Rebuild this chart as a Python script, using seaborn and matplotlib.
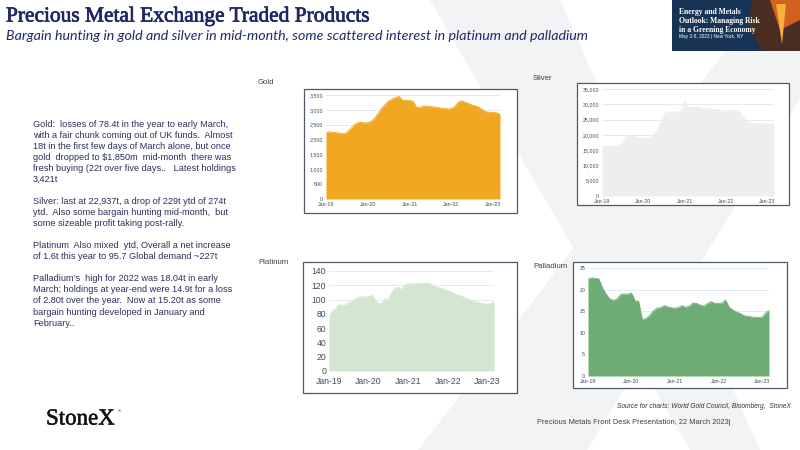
import os
import pandas as pd
import matplotlib
matplotlib.use('Agg')
import matplotlib.pyplot as plt
import matplotlib.dates as mdates
import matplotlib.patheffects as pe
from matplotlib import font_manager as fm
from matplotlib.font_manager import FontProperties
from matplotlib.patches import Rectangle, Polygon
from matplotlib.ticker import FuncFormatter
import seaborn as sb

# Monthly ETP holdings, Jan-19 .. Mar-23
months = pd.date_range('2019-01-01', periods=51, freq='MS')

gold = [2240, 2260, 2250, 2230, 2220, 2190, 2240, 2350, 2480, 2560, 2590, 2560,
        2570, 2620, 2720, 2880, 3060, 3180, 3300, 3360, 3420, 3450, 3320, 3320,
        3320, 3280, 3090, 3080, 3130, 3130, 3110, 3100, 3080, 3060, 3050, 3030,
        3040, 3120, 3260, 3310, 3250, 3210, 3160, 3130, 3080, 3000, 2930, 2920,
        2910, 2900, 2860]
silver = [16200, 16300, 16300, 16200, 16300, 16500, 17500, 19400, 19700, 19500, 19200, 18900,
          18700, 18900, 19200, 20000, 21200, 24000, 26800, 27600, 27300, 27600, 27400, 27800,
          30900, 29300, 28900, 29000, 29000, 28700, 28600, 28400, 28400, 28300, 28200, 28000,
          27800, 27900, 28000, 28000, 27600, 25800, 24400, 24000, 23850, 23700, 23600, 23600,
          23600, 23500, 23500]
platinum = [74, 84, 87, 93, 92, 92, 96, 97, 101, 103, 104, 104,
            104, 106, 100, 94, 95, 100, 101, 110, 116, 117, 114, 121,
            122, 122, 122, 123, 122, 123, 123, 121, 118, 117, 116, 114,
            112, 111, 108, 106, 105, 103, 101, 99, 97, 96, 95, 94,
            93, 95, 97]
palladium = [22.4, 22.7, 22.6, 22.5, 20.5, 19.0, 17.9, 17.5, 17.8, 18.8, 19.0, 18.9,
             19.2, 17.4, 17.3, 13.1, 13.3, 14.0, 15.0, 15.7, 15.8, 16.3, 16.0, 15.8,
             15.7, 15.9, 16.3, 15.9, 16.2, 16.9, 16.8, 16.4, 16.2, 16.8, 17.2, 16.8,
             16.8, 16.9, 17.6, 15.9, 15.3, 14.8, 14.5, 14.0, 13.8, 13.7, 13.6, 13.5,
             13.6, 14.6, 15.2]

tick_years = ['2019', '2020', '2021', '2022', '2023']

body = ("Gold:  losses of 78.4t in the year to early March,\n"
        "with a fair chunk coming out of UK funds.  Almost\n"
        "18t in the first few days of March alone, but once\n"
        "gold  dropped to $1,850m  mid-month  there was\n"
        "fresh buying (22t over five days..   Latest holdings\n"
        "3,421t\n"
        "\n"
        "Silver: last at 22,937t, a drop of 229t ytd of 274t\n"
        "ytd.  Also some bargain hunting mid-month,  but\n"
        "some sizeable profit taking post-rally.\n"
        "\n"
        "Platinum  Also mixed  ytd, Overall a net increase\n"
        "of 1.6t this year to 95.7 Global demand ~227t\n"
        "\n"
        "Palladium\u2019s  high for 2022 was 18.04t in early\n"
        "March; holdings at year-end were 14.9t for a loss\n"
        "of 2.80t over the year.  Now at 15.20t as some\n"
        "bargain hunting developed in January and\n"
        "February..")

sb.set_theme(style='white')
plt.rcParams['font.family'] = ['Liberation Sans', 'DejaVu Sans']


def serif(fname, size, weight='normal'):
    # pick the upright file directly, name matching sometimes lands on an italic face
    for f in fm.findSystemFonts():
        if os.path.basename(f).lower() == fname.lower():
            return FontProperties(fname=f, size=size)
    return FontProperties(family='DejaVu Serif', weight=weight, size=size)


W, H = 800, 450
fig = plt.figure(figsize=(8, 4.5), dpi=100)
fig.patch.set_facecolor('white')


def fx(px):
    return px / W


def fy(py):
    return 1 - py / H


def poly(pts, color, z):
    fig.add_artist(Polygon([(fx(a), fy(b)) for a, b in pts], closed=True,
                           transform=fig.transFigure, color=color, lw=0, zorder=z))


# faint StoneX "X" watermark
wm = '#F2F3F5'
poly([(430, 0), (560, 0), (760, 450), (690, 450)], wm, -3)
poly([(765, 0), (860, 0), (587, 450), (418, 450)], wm, -3)

# header
fig.text(fx(6), fy(17), 'Precious Metal Exchange Traded Products',
         fontproperties=serif('LiberationSerif-Regular.ttf', 15.4), color='#1F2565', va='center',
         path_effects=[pe.withStroke(linewidth=0.5, foreground='#1F2565')])
fig.text(fx(6), fy(36), 'Bargain hunting in gold and silver in mid-month, some scattered interest in platinum and palladium',
         family=['Lato', 'Liberation Sans'], fontsize=10.3, style='italic', color='#1F2A6B', va='center')

# event banner
poly([(672, 0), (800, 0), (800, 51), (672, 51)], '#173456', 1)
poly([(753, 0), (800, 0), (800, 51), (762, 51), (748, 25)], '#4A2E24', 2)
poly([(770, 0), (800, 0), (800, 20), (780, 30)], '#D2601E', 3)
poly([(776, 4), (786, 4), (782, 44)], '#F7B040', 4)
fig.text(fx(679), fy(21), 'Energy and Metals\nOutlook: Managing Risk\nin a Greening Economy',
         fontproperties=serif('LiberationSerif-Bold.ttf', 5.5, 'bold'), color='white', va='center',
         linespacing=1.2, zorder=5)
fig.text(fx(679), fy(36.5), 'May 3-5, 2023 | New York, NY', fontsize=3.4, color='white', va='center', zorder=5)

# commentary
fig.text(fx(33), fy(120), body, fontsize=6.55, color='#2B2F5C', va='top', linespacing=1.29)

# charts: (name, values, colour, label pos, box, plot area, ylim, ystep, tick size)
charts = [
    ('Gold', gold, '#F0A823', (258, 82), (304, 89, 517, 213), (326, 95, 500, 199), 3500, 500, 3.8),
    ('Silver', silver, '#EEEEEE', (533, 79), (577, 83, 789, 205), (602, 89, 774, 196), 35000, 5000, 3.8),
    ('Platinum', platinum, '#D2E6D2', (258, 262), (303, 262, 517, 393), (329, 271, 494, 371), 140, 20, 6.2),
    ('Palladium', palladium, '#6EAC75', (533, 266), (573, 262, 787, 388), (588, 268, 769, 376), 25, 5, 3.8),
]

for name, vals, col, lab, box, area, ytop, ystep, tsize in charts:
    fig.text(fx(lab[0]), fy(lab[1]), name, fontsize=5.6, color='#404040', va='center')
    fig.add_artist(Rectangle((fx(box[0]), fy(box[3])), fx(box[2] - box[0]), (box[3] - box[1]) / H,
                             transform=fig.transFigure, facecolor='white', edgecolor='#4E5868',
                             lw=0.9, zorder=-1))
    ax = fig.add_axes([fx(area[0]), fy(area[3]), fx(area[2] - area[0]), (area[3] - area[1]) / H])
    ax.set_facecolor('none')
    df = pd.DataFrame({'month': months, 'value': vals})
    ax.fill_between(df['month'], 0, df['value'], color=col, lw=0, zorder=2)
    sb.lineplot(data=df, x='month', y='value', ax=ax, color=col, lw=0.6, zorder=3)
    ax.set_xlim(months[0], months[-1])
    ax.set_ylim(0, ytop)
    ax.set_yticks(range(0, ytop + 1, ystep))
    ax.yaxis.set_major_formatter(FuncFormatter(lambda v, p: f'{int(v):,}'))
    ax.set_xticks([pd.Timestamp(y + '-01-01') for y in tick_years])
    ax.xaxis.set_major_formatter(mdates.DateFormatter('%b-%y'))
    ax.grid(axis='y', color='#DCE8F4', lw=0.6, zorder=1)
    ax.grid(axis='x', visible=False)
    ax.set_axisbelow(True)
    for s in ax.spines.values():
        s.set_visible(False)
    ax.tick_params(axis='y', length=0, labelsize=tsize, colors='#404A5A', pad=2)
    ax.tick_params(axis='x', length=0, labelsize=tsize, colors='#404A5A', pad=2 if tsize < 5 else 4)
    ax.set_xlabel('')
    ax.set_ylabel('')

# footer
fig.text(fx(791), fy(407), 'Source for charts: World Gold Council, Bloomberg,  StoneX', fontsize=4.75,
         style='italic', color='#333333', ha='right', va='center')
fig.text(fx(537), fy(423), 'Precious Metals Front Desk Presentation, 22 March 2023|', fontsize=5.4,
         color='#404040', va='center')
fig.text(fx(46), fy(419), 'StoneX', fontproperties=serif('LiberationSerif-Regular.ttf', 16.5),
         color='#111111', va='center',
         path_effects=[pe.withStroke(linewidth=0.35, foreground='#111111')])
fig.text(fx(118), fy(411), '\u00ae', fontsize=3, color='#111111', va='center')

fig.savefig('out.png', dpi=100)
